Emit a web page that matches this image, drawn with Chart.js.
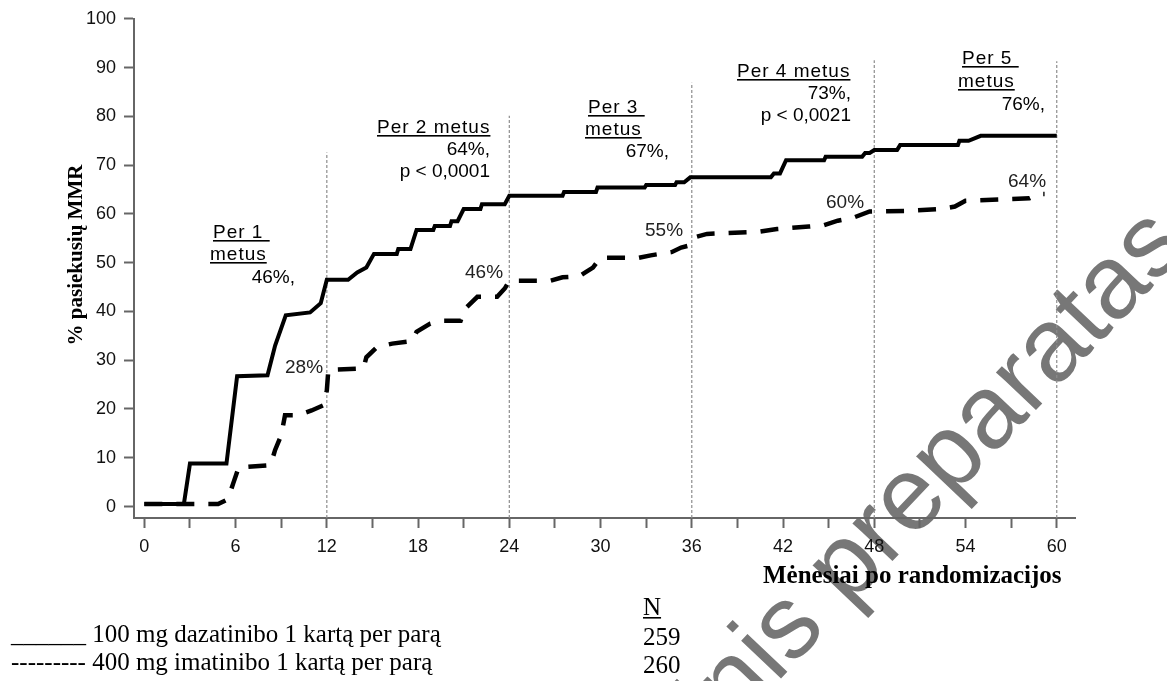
<!DOCTYPE html>
<html>
<head>
<meta charset="utf-8">
<script src="https://cdn.jsdelivr.net/npm/chart.js@4.4.1/dist/chart.umd.min.js"></script>
<style>
  html, body { margin: 0; padding: 0; background: #fff; overflow: hidden; }
  canvas { display: block; }
</style>
</head>
<body>
<canvas id="mmrChart" width="1167" height="681"></canvas>
<script>
// Kaplan-Meier style curves (months, % reaching MMR)
const dasatinibMonths = [0, 2.6, 3.0, 5.4, 6.1, 8.1, 8.6, 9.3, 10.9, 11.6, 12.0, 13.4, 14.0, 14.6, 15.1, 16.6, 16.7, 17.5, 17.9, 19.0,
  19.1, 20.1, 20.2, 20.6, 21.0, 22.1, 22.2, 23.7, 24.0, 27.5, 27.6, 29.7, 29.8, 32.9, 33.0, 34.9, 35.0, 35.5, 35.9, 41.2,
  41.4, 41.8, 42.2, 44.7, 44.8, 47.2, 47.4, 47.7, 48.0, 49.5, 49.7, 53.5, 53.6, 54.2, 55.0, 60];
const dasatinibMMR = [0.5, 0.5, 8.8, 8.8, 26.7, 26.9, 33, 39.2, 39.8, 41.7, 46.5, 46.5, 48, 49, 51.8, 51.8, 52.8, 52.8, 56.7, 56.7,
  57.5, 57.5, 58.5, 58.5, 61.0, 61.0, 62.0, 62.0, 63.7, 63.7, 64.5, 64.5, 65.4, 65.4, 65.9, 65.9, 66.5, 66.5, 67.5, 67.5,
  68.3, 68.3, 71.0, 71.0, 71.7, 71.7, 72.5, 72.5, 73.1, 73.1, 74.1, 74.1, 75.0, 75.0, 76.0, 76.0];

const imatinibMonths = [0, 4.85, 5.5, 5.85, 6.2, 8.3, 8.6, 9.0, 9.25, 10.1, 11.0, 11.8, 12.0, 12.1, 14.4, 14.6, 15.3, 16.3, 17.6, 17.9,
  18.8, 19.6, 20.8, 21.1, 21.9, 23.2, 23.7, 24.0, 26.7, 27.5, 28.6, 29.0, 29.5, 30.0, 32.5, 33.3, 34.7, 35.3, 35.8, 36.2,
  37.0, 40.3, 41.6, 43.7, 44.7, 45.6, 46.6, 47.7, 50.1, 52.4, 53.3, 54.0, 56.5, 58.2, 58.8, 59.2];
const imatinibMMR = [0.5, 0.5, 1.5, 4.8, 8.0, 8.5, 11.6, 14.6, 18.7, 18.7, 19.7, 20.8, 23.8, 28.0, 28.3, 30.6, 32.7, 33.4, 33.9, 35.8,
  37.5, 38.1, 38.1, 40.6, 43.0, 43.0, 44.7, 46.3, 46.3, 47.0, 47.2, 48.0, 49.0, 51.0, 51.0, 51.5, 52.2, 53.1, 53.5, 55.2,
  55.9, 56.3, 56.9, 57.4, 57.7, 58.6, 59.2, 60.5, 60.6, 61.0, 61.5, 62.7, 63.0, 63.2, 64.1, 64.1];

// yearly dotted markers and their heights
const yearMarks = [12, 24, 36, 48, 60];
const yearMarkTops = [72.6, 80.1, 86.9, 91.5, 91.3];

const xTicks = [0, 3, 6, 9, 12, 15, 18, 21, 24, 27, 30, 33, 36, 39, 42, 45, 48, 51, 54, 57, 60];
const yTicks = [0, 10, 20, 30, 40, 50, 60, 70, 80, 90, 100];

const yearHeads = [["Per 1 ", "metus"], ["Per 2 metus"], ["Per 3 ", "metus"], ["Per 4 metus"], ["Per 5 ", "metus"]];
const dasatinibNotes = ["46%,", "64%,", "67%,", "73%,", "76%,"];
const pValues = ["p < 0,0001", "p < 0,0021"];
const imatinibNotes = ["28%", "46%", "55%", "60%", "64%"];

const legendNames = ["______ 100 mg dazatinibo 1 kartą per parą", "--------- 400 mg imatinibo 1 kartą per parą"];
const legendN = ["259", "260"];
const yTitle = "% pasiekusių MMR";
const xTitle = "Mėnesiai po randomizacijos";
const watermark = "Vaistinis preparatas neberegistruotas";

const toPoints = (xs, ys) => xs.map((x, i) => ({ x: x, y: ys[i] }));

const SANS = '"Liberation Sans", Arial, sans-serif';
const SERIF = '"Liberation Serif", "Times New Roman", serif';

function text(ctx, s, x, y, o) {
  ctx.save();
  ctx.font = o.font;
  ctx.fillStyle = o.color || "#000";
  ctx.textAlign = o.align || "left";
  ctx.textBaseline = "alphabetic";
  if (o.spacing) ctx.letterSpacing = o.spacing;
  ctx.fillText(s, x, y);
  if (o.under) {
    const w = ctx.measureText(s).width;
    const x0 = o.align === "right" ? x - w : x;
    ctx.fillRect(x0, y + 2, w, 1.6);
  }
  ctx.restore();
}

const watermarkPlugin = {
  id: "watermark",
  beforeDraw(chart) {
    const ctx = chart.ctx;
    ctx.save();
    ctx.font = "104px " + SANS;
    ctx.fillStyle = "#777";
    ctx.translate(810, 648);
    ctx.rotate(-46.5 * Math.PI / 180);
    // anchor on the last "s" of the first word
    const off = ctx.measureText("Vaistini").width + ctx.measureText("s").width / 2;
    ctx.fillText(watermark, -off, 0);
    ctx.restore();
  }
};

const notesPlugin = {
  id: "notes",
  afterDraw(chart) {
    const ctx = chart.ctx;
    const f = "19px " + SANS;
    const head = { font: f, under: true, spacing: "1px" };

    // per-year blocks (solid line)
    text(ctx, yearHeads[0][0], 213, 238, head);
    text(ctx, yearHeads[0][1], 210, 260, head);
    text(ctx, dasatinibNotes[0], 295, 283, { font: f, align: "right" });

    text(ctx, yearHeads[1][0], 377, 133, head);
    text(ctx, dasatinibNotes[1], 490, 155, { font: f, align: "right" });
    text(ctx, pValues[0], 490, 177, { font: f, align: "right" });

    text(ctx, yearHeads[2][0], 588, 113, head);
    text(ctx, yearHeads[2][1], 585, 135, head);
    text(ctx, dasatinibNotes[2], 669, 157, { font: f, align: "right" });

    text(ctx, yearHeads[3][0], 737, 77, head);
    text(ctx, dasatinibNotes[3], 851, 99, { font: f, align: "right" });
    text(ctx, pValues[1], 851, 121, { font: f, align: "right" });

    text(ctx, yearHeads[4][0], 962, 64, head);
    text(ctx, yearHeads[4][1], 958, 87, head);
    text(ctx, dasatinibNotes[4], 1045, 110, { font: f, align: "right" });

    // dashed line labels
    const dl = { font: f, color: "#222" };
    text(ctx, imatinibNotes[0], 285, 373, dl);
    text(ctx, imatinibNotes[1], 465, 278, dl);
    text(ctx, imatinibNotes[2], 645, 236, dl);
    text(ctx, imatinibNotes[3], 826, 208, dl);
    text(ctx, imatinibNotes[4], 1008, 187, dl);

    // axis titles
    ctx.save();
    ctx.translate(82, 255);
    ctx.rotate(-Math.PI / 2);
    text(ctx, yTitle, 0, 0, { font: "bold 21px " + SERIF, align: "center" });
    ctx.restore();
    text(ctx, xTitle, 763, 583, { font: "bold 25px " + SERIF });

    // legend
    const lf = { font: "25px " + SERIF };
    text(ctx, legendNames[0], 11, 642, lf);
    text(ctx, legendNames[1], 11, 670, lf);
    text(ctx, "N", 643, 615, { font: "25px " + SERIF, under: true });
    text(ctx, legendN[0], 643, 645, lf);
    text(ctx, legendN[1], 643, 673, lf);
  }
};

const refLines = yearMarks.map((m, i) => ({
  data: [{ x: m, y: -2.35 }, { x: m, y: yearMarkTops[i] }],
  borderColor: "#8c8c8c",
  borderWidth: 1.2,
  borderDash: [3, 2],
  pointRadius: 0
}));

new Chart(document.getElementById("mmrChart"), {
  type: "line",
  data: {
    datasets: [
      {
        label: "100 mg dazatinibo",
        data: toPoints(dasatinibMonths, dasatinibMMR),
        borderColor: "#000",
        borderWidth: 4,
        pointRadius: 0
      },
      {
        label: "400 mg imatinibo",
        data: toPoints(imatinibMonths, imatinibMMR),
        borderColor: "#000",
        borderWidth: 4.5,
        borderDash: [18, 14],
        pointRadius: 0
      },
      ...refLines
    ]
  },
  options: {
    responsive: false,
    animation: false,
    devicePixelRatio: 1,
    layout: { padding: { left: 0, top: 18, right: 92, bottom: 0 } },
    plugins: { legend: { display: false }, tooltip: { enabled: false } },
    elements: { line: { tension: 0 } },
    scales: {
      x: {
        type: "linear",
        min: -0.68,
        max: 61.2,
        afterBuildTicks: s => { s.ticks = xTicks.map(v => ({ value: v })); },
        afterFit: s => { s.height = 163; },
        ticks: {
          autoSkip: false,
          maxRotation: 0,
          padding: 8,
          color: "#111",
          font: { family: "Liberation Sans", size: 18 },
          callback: v => (v % 6 === 0 ? String(v) : "")
        },
        grid: { drawOnChartArea: false, tickLength: 10, tickWidth: 2, tickColor: "#666" },
        border: { color: "#666", width: 2 }
      },
      y: {
        type: "linear",
        min: -2.35,
        max: 100,
        afterBuildTicks: s => { s.ticks = yTicks.map(v => ({ value: v })); },
        afterFit: s => { s.width = 134; },
        ticks: {
          padding: 8,
          color: "#111",
          font: { family: "Liberation Sans", size: 18 }
        },
        grid: { drawOnChartArea: false, tickLength: 10, tickWidth: 2, tickColor: "#666" },
        border: { color: "#666", width: 2 }
      }
    }
  },
  plugins: [watermarkPlugin, notesPlugin]
});
</script>
</body>
</html>
